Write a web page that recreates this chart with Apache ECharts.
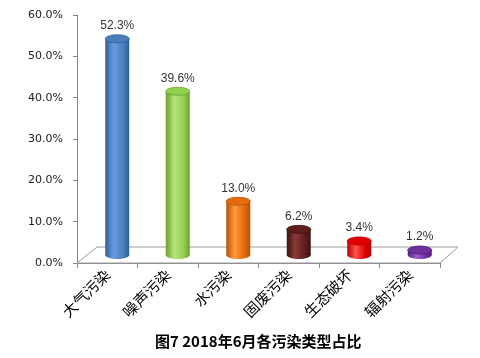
<!DOCTYPE html>
<html><head><meta charset="utf-8">
<script src="https://cdn.jsdelivr.net/npm/echarts@6/dist/echarts.min.js"></script>
<style>html,body{margin:0;padding:0;background:#fff}#c{width:480px;height:358px}</style>
</head><body><div id="c"></div>
<script>
const categories = ['大气污染','噪声污染','水污染','固废污染','生态破坏','辐射污染'];
const values = [52.3, 39.6, 13.0, 6.2, 3.4, 1.2];
const yTicks = [0, 10, 20, 30, 40, 50, 60];
const barColors = [
  ['#2f5f9a','#6a9be0','#4a7ebb'],
  ['#6e9e2e','#b2e57a','#92d050'],
  ['#b45304','#ff9a3c','#e46c0a'],
  ['#3f1212','#8a3a36','#5e1e1c'],
  ['#b30000','#ff5050','#e00000'],
  ['#4e2078','#9b5fd0','#7030a0']
];
const chart = echarts.init(document.getElementById('c'));
function cyl(params, api){
  const i = params.dataIndex;
  const v = api.value(1);
  const base = api.coord([api.value(0), 0]);
  const top = api.coord([api.value(0), v]);
  const dx = 10, dy = -8, w = 24, rh = 4;
  const cx = base[0] + dx;
  const yb = base[1] + dy, yt = top[1] + dy;
  const c = barColors[i];
  const grad = new echarts.graphic.LinearGradient(0,0,1,0,[
    {offset:0,color:c[0]},{offset:0.35,color:c[1]},{offset:0.75,color:c[2]},{offset:1,color:c[0]}]);
  return {type:'group', children:[
    {type:'ellipse', shape:{cx:cx, cy:yb, rx:w/2, ry:rh}, style:{fill:grad}},
    {type:'rect', shape:{x:cx-w/2, y:yt, width:w, height:Math.max(0,yb-yt)}, style:{fill:grad}},
    {type:'ellipse', shape:{cx:cx, cy:yt, rx:w/2, ry:rh}, style:{fill:c[2], stroke:c[0], lineWidth:0.8}},
    {type:'text', style:{text:v.toFixed(1)+'%', x:cx, y:yt-rh-3, align:'center', verticalAlign:'bottom',
      fill:'#333', font:'12px "Liberation Sans", Arial, sans-serif'}}
  ]};
}
function floor(params, api){
  const cs = params.coordSys;
  const x0 = cs.x, y0 = cs.y + cs.height, x1 = cs.x + cs.width;
  return {type:'polygon', silent:true, shape:{points:[[x0,y0],[x0+20,y0-16],[x1+18,y0-16],[x1,y0]]},
    style:{fill:'#fff', stroke:'#9a9a9a', lineWidth:1}, z2:-1};
}
chart.setOption({
  animation:false,
  title:{text:'图7 2018年6月各污染类型占比', left:150, bottom:4,
    textStyle:{fontSize:15, fontWeight:'bold', color:'#000', fontFamily:'"Noto Sans CJK SC", sans-serif'}},
  grid:{left:77, right:40, top:15, bottom:95},
  xAxis:{type:'category', data:categories,
    axisLine:{lineStyle:{color:'#868686'}},
    axisTick:{show:true, length:5, lineStyle:{color:'#868686'}},
    axisLabel:{rotate:45, color:'#000', fontSize:15, margin:9, fontFamily:'"Noto Sans CJK SC", sans-serif'}},
  yAxis:{type:'value', min:yTicks[0], max:yTicks[yTicks.length-1], interval:10,
    axisLine:{show:true, lineStyle:{color:'#868686'}},
    axisTick:{show:true, length:4, lineStyle:{color:'#868686'}},
    splitLine:{show:false},
    axisLabel:{formatter:v=>v.toFixed(1)+'%', color:'#222', fontSize:11, margin:14, fontFamily:'"DejaVu Sans", sans-serif'}},
  series:[
    {type:'custom', renderItem:floor, data:[[0,0]], z:1, silent:true},
    {type:'custom', renderItem:cyl, data:categories.map((c,i)=>[i, values[i]]), z:2}
  ]
});
</script></body></html>
